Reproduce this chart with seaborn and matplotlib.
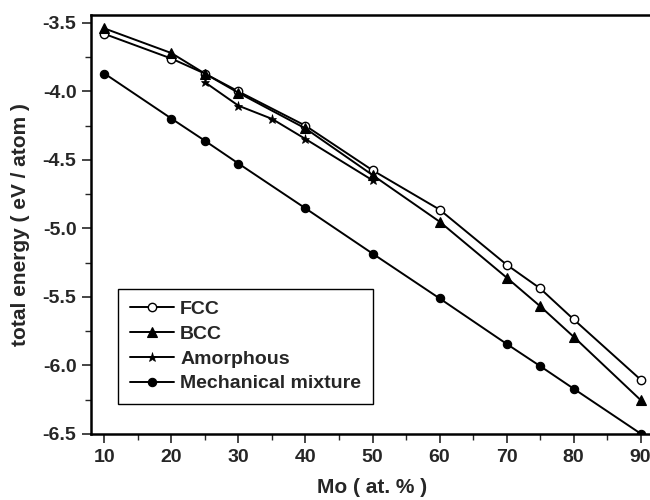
import matplotlib
matplotlib.use("Agg")
import matplotlib.pyplot as plt
from matplotlib.ticker import MultipleLocator
import seaborn as sns
import pandas as pd

# Mo content (at. %) and total energies (eV / atom) of each structure
mo_fcc = [10, 20, 25, 30, 40, 50, 60, 70, 75, 80, 90]
e_fcc = [-3.58, -3.76, -3.87, -4.00, -4.25, -4.575, -4.862, -5.264, -5.437, -5.663, -6.103]

mo_bcc = [10, 20, 25, 30, 40, 50, 60, 70, 75, 80, 90]
e_bcc = [-3.54, -3.72, -3.87, -4.01, -4.27, -4.61, -4.95, -5.358, -5.567, -5.79, -6.252]

mo_amorphous = [25, 30, 35, 40, 50]
e_amorphous = [-3.933, -4.104, -4.20, -4.347, -4.648]

mo_mixture = [10, 20, 25, 30, 40, 50, 60, 70, 75, 80, 90]
e_mixture = [-3.869, -4.198, -4.36, -4.526, -4.853, -5.183, -5.51, -5.842, -6.004, -6.169, -6.497]

x_ticks = [10, 20, 30, 40, 50, 60, 70, 80, 90]
y_ticks = [-3.5, -4.0, -4.5, -5.0, -5.5, -6.0, -6.5]

sns.set_style("ticks")
plt.rcParams["font.family"] = ["Liberation Sans", "DejaVu Sans"]
plt.rcParams["font.weight"] = "bold"

fig = plt.figure(figsize=(6.5, 5.0), dpi=100)
ax = fig.add_axes([91 / 650, 66 / 500, 563 / 650, 419 / 500])

series = [
    ("FCC", mo_fcc, e_fcc, dict(marker="o", markersize=6, markerfacecolor="white",
                                 markeredgecolor="black", markeredgewidth=1.0)),
    ("BCC", mo_bcc, e_bcc, dict(marker="^", markersize=7, markerfacecolor="black",
                                 markeredgecolor="black", markeredgewidth=0.8)),
    ("Amorphous", mo_amorphous, e_amorphous, dict(marker="*", markersize=6.5,
                                                   markerfacecolor="black",
                                                   markeredgecolor="black", markeredgewidth=0.5)),
    ("Mechanical mixture", mo_mixture, e_mixture, dict(marker="o", markersize=6,
                                                        markerfacecolor="black",
                                                        markeredgecolor="black",
                                                        markeredgewidth=0.8)),
]

for name, xs, ys, style in series:
    df = pd.DataFrame({"Mo": xs, "E": ys})
    sns.lineplot(data=df, x="Mo", y="E", ax=ax, color="black", linewidth=1.4,
                 label=name, sort=False, **style)

ax.set_xlim(8, 92)
ax.set_ylim(-6.5, -3.442)
ax.set_xticks(x_ticks)
ax.set_yticks(y_ticks)
ax.set_yticklabels([f"{v:.1f}" for v in y_ticks])
ax.xaxis.set_minor_locator(MultipleLocator(5))
ax.yaxis.set_minor_locator(MultipleLocator(0.25))
ax.tick_params(which="major", direction="out", length=6.5, width=1.2, labelsize=14, pad=4)
ax.tick_params(which="minor", direction="out", length=4, width=1.0)
ax.tick_params(top=False, right=False, which="both")
for side in ["left", "bottom", "top", "right"]:
    ax.spines[side].set_visible(True)
    ax.spines[side].set_linewidth(1.8)
    ax.spines[side].set_color("black")
for lbl in ax.get_xticklabels() + ax.get_yticklabels():
    lbl.set_fontweight("bold")

ax.set_xlabel("Mo ( at. % )", fontsize=15, fontweight="bold", labelpad=9)
ax.set_ylabel("total energy ( eV / atom )", fontsize=15, fontweight="bold", labelpad=9)

leg = ax.legend(loc="lower left", bbox_to_anchor=(0.048, 0.0716), fontsize=14,
                frameon=True, fancybox=False, edgecolor="black", framealpha=1,
                handlelength=2.3, handletextpad=0.3, labelspacing=0.37,
                borderpad=0.6, borderaxespad=0)
leg.get_frame().set_linewidth(1.0)
for t in leg.get_texts():
    t.set_fontweight("bold")

fig.savefig("out.png", dpi=100)
